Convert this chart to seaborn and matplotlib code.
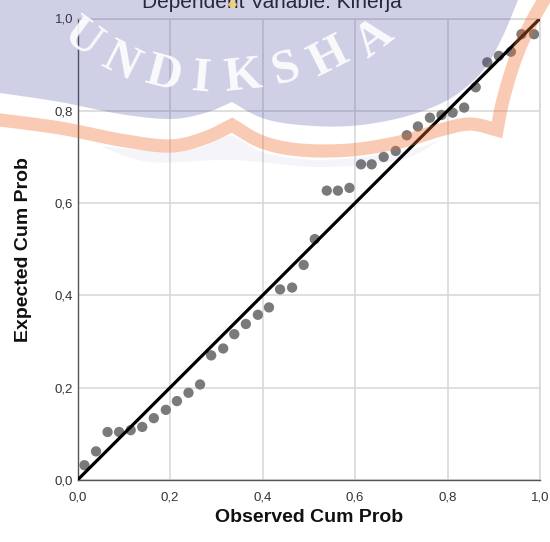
import numpy as np
import pandas as pd
import seaborn as sns
import matplotlib.pyplot as plt
from matplotlib.patches import Polygon
from matplotlib.lines import Line2D

# P-P plot values
observed = [0.015, 0.040, 0.065, 0.090, 0.115, 0.140, 0.165, 0.191, 0.215, 0.240,
            0.265, 0.289, 0.315, 0.339, 0.364, 0.390, 0.414, 0.438, 0.464, 0.489,
            0.513, 0.539, 0.563, 0.588, 0.613, 0.636, 0.662, 0.688, 0.712, 0.736,
            0.762, 0.787, 0.811, 0.836, 0.861, 0.886, 0.911, 0.937, 0.960, 0.987]
expected = [0.032, 0.062, 0.104, 0.104, 0.108, 0.115, 0.134, 0.152, 0.171, 0.189,
            0.207, 0.270, 0.285, 0.316, 0.338, 0.358, 0.374, 0.413, 0.417, 0.466,
            0.522, 0.627, 0.627, 0.633, 0.684, 0.684, 0.700, 0.713, 0.747, 0.766,
            0.785, 0.791, 0.796, 0.807, 0.851, 0.905, 0.919, 0.928, 0.966, 0.966]
diagonal = [0.0, 1.0]
tick_values = [0.0, 0.2, 0.4, 0.6, 0.8, 1.0]
tick_labels = ['0,0', '0,2', '0,4', '0,6', '0,8', '1,0']
title = 'Dependent Variable: Kinerja'
watermark = 'UNDIKSHA'

sns.set_style("white")
plt.rcParams['font.family'] = ['Liberation Sans', 'DejaVu Sans']

W, H = 550, 542
fig = plt.figure(figsize=(W / 100, H / 100), dpi=100)
ax = fig.add_axes([77.5 / W, 1 - 480 / H, (540 - 77.5) / W, (480 - 18.5) / H])

df = pd.DataFrame({'observed': observed, 'expected': expected})
sns.scatterplot(data=df, x='observed', y='expected', color='#7a7a7a', s=55,
                edgecolor='none', ax=ax, zorder=3)
sns.lineplot(x=diagonal, y=diagonal, color='black', lw=2.3, ax=ax, zorder=4)

ax.set_xlim(0, 1)
ax.set_ylim(0, 1)
ax.set_xticks(tick_values)
ax.set_xticklabels(tick_labels, fontsize=9.5, color='#333333')
ax.set_yticks(tick_values)
ax.set_yticklabels(tick_labels, fontsize=9.5, color='#333333')
ax.tick_params(length=0)
ax.tick_params(axis='x', pad=8)
ax.tick_params(axis='y', pad=3)
ax.grid(True, color='#d6d6d6', lw=1.1)
ax.set_axisbelow(True)
for side in ['left', 'bottom']:
    ax.spines[side].set_color('#555555')
    ax.spines[side].set_linewidth(1.0)
for side in ['top', 'right']:
    ax.spines[side].set_color('#d6d6d6')
    ax.spines[side].set_linewidth(1.1)

ax.set_xlabel('Observed Cum Prob', fontsize=14, fontweight='bold', color='#111111',
              va='center')
ax.set_ylabel('Expected Cum Prob', fontsize=14, fontweight='bold', color='#111111',
              va='center')
ax.xaxis.set_label_coords(0.5, (480 - 518) / 461.5)
ax.yaxis.set_label_coords((24 - 77.5) / 462.5, 0.5)

fig.text(272 / W, 1 - 8 / H, title, ha='center', va='baseline', fontsize=15,
         color='#222222')


# ---- watermark (drawn in pixel coordinates of the figure) ----
def px(pts):
    p = np.asarray(pts, float)
    return np.column_stack([p[:, 0] / W, 1 - p[:, 1] / H])


def smooth(pts, n=14):
    p = np.asarray(pts, float)
    p = np.vstack([p[0], p, p[-1]])
    out = []
    t = np.linspace(0, 1, n, endpoint=False)[:, None]
    for i in range(1, len(p) - 2):
        p0, p1, p2, p3 = p[i - 1], p[i], p[i + 1], p[i + 2]
        out.append(0.5 * (2 * p1 + (-p0 + p2) * t + (2 * p0 - 5 * p1 + 4 * p2 - p3) * t ** 2
                          + (-p0 + 3 * p1 - 3 * p2 + p3) * t ** 3))
    out.append(p[-2][None])
    return np.vstack(out)


edge_left = smooth([(0, 93), (60, 102), (120, 114), (170, 119), (205, 113), (232, 102)])
edge_right = smooth([(232, 102), (262, 118), (300, 125), (350, 126), (400, 118),
                     (440, 104), (465, 88), (485, 68), (502, 38), (518, 0)])
lav = np.vstack([[(0, 0)], edge_left, edge_right[1:], [(518, 0)]])
fig.add_artist(Polygon(px(lav), closed=True, transform=fig.transFigure,
                       facecolor='#3a3a9a', alpha=0.24, edgecolor='none', zorder=5))

below = np.vstack([smooth([(100, 146), (170, 152), (205, 146), (232, 136), (262, 152),
                           (320, 160), (400, 152), (440, 140)]),
                   smooth([(440, 140), (400, 160), (320, 167), (232, 160), (150, 162), (100, 146)])])
fig.add_artist(Polygon(px(below), closed=True, transform=fig.transFigure,
                       facecolor='#3a3a9a', alpha=0.05, edgecolor='none', zorder=5))

band_left = smooth([(0, 120), (60, 128), (120, 140), (170, 146), (205, 138), (232, 125)])
band_mid = smooth([(232, 125), (262, 142), (300, 150), (350, 150), (400, 142),
                   (440, 130), (470, 124), (497, 130)])
band_right = smooth([(497, 130), (503, 100), (515, 60), (530, 25), (544, 0)])
band = np.vstack([band_left, band_mid[1:], band_right[1:]])
bxy = px(band)
fig.add_artist(Line2D(bxy[:, 0], bxy[:, 1], transform=fig.transFigure, color='#f07030',
                      alpha=0.36, lw=9.5, solid_joinstyle='miter', zorder=5))

letter_pos = [(82, 39), (120, 62), (163, 75), (201, 79), (243, 77), (286, 70), (329, 58), (374, 39)]
letter_rot = [-36, -27, -15, -5, 6, 17, 27, 37]
for ch, (lx, ly), r in zip(watermark, letter_pos, letter_rot):
    fig.text(lx / W, 1 - ly / H, ch, ha='center', va='center', rotation=r,
             fontsize=35, fontweight='bold', family='Liberation Serif',
             color='white', alpha=0.9, zorder=6)

fig.add_artist(Line2D([232 / W], [1 - 4 / H], transform=fig.transFigure, marker='D',
                      ms=4, color='#f3d36b', alpha=0.8, lw=0, zorder=6))

fig.savefig('out.png', dpi=100)
